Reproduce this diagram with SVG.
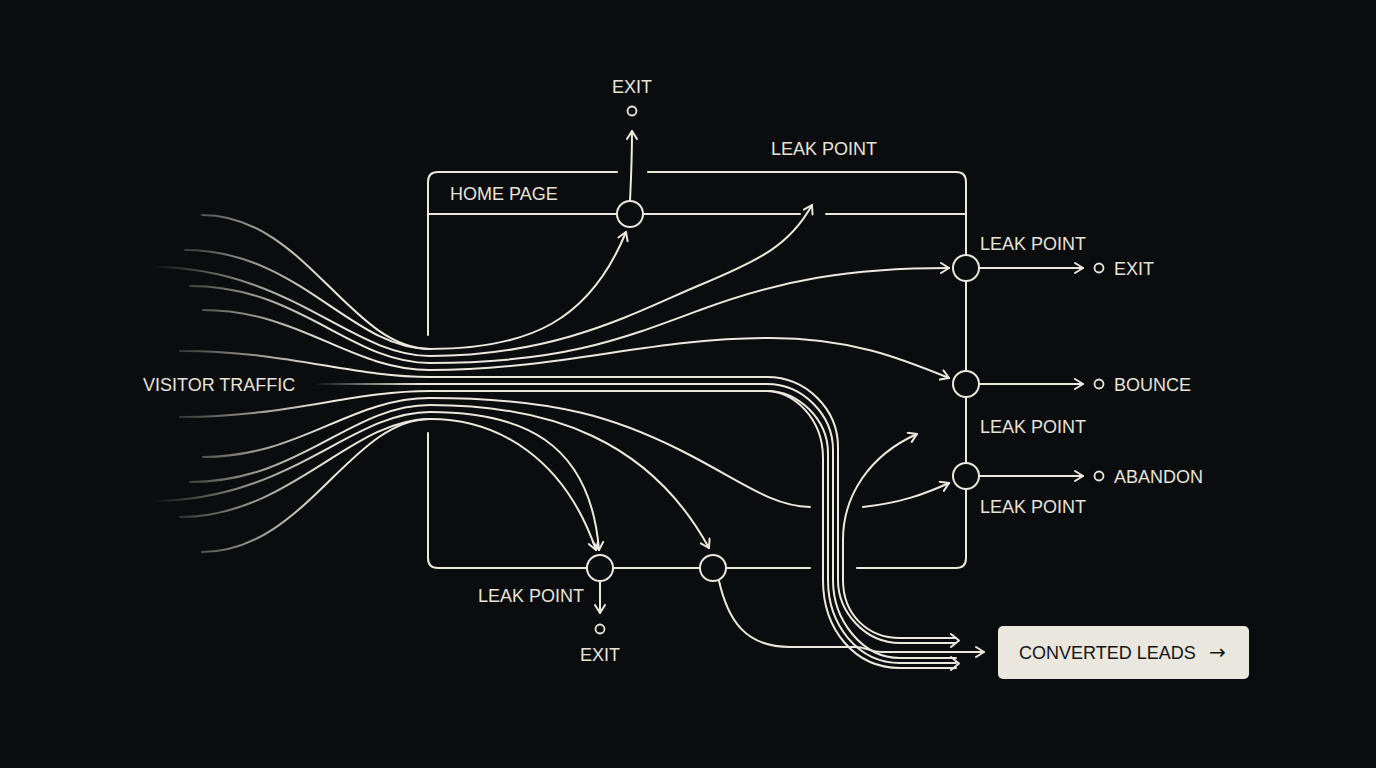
<svg xmlns="http://www.w3.org/2000/svg" width="1376" height="768" viewBox="0 0 1376 768">
<defs>
<style>
.ln{fill:none;stroke:#ebe8df;stroke-width:2;stroke-linecap:round;stroke-linejoin:round}
.fd{fill:none;stroke:url(#fade);stroke-width:2;stroke-linecap:round}
.fc{fill:none;stroke:url(#fadec);stroke-width:2;stroke-linecap:round}
.node{fill:#0b0c0d;stroke:#ebe8df;stroke-width:2}
.dot{fill:#0b0c0d;stroke:#ebe8df;stroke-width:1.8}
.t{font-family:"Liberation Sans",Arial,sans-serif;font-size:18px;fill:#e6e3da}
.tb{font-family:"Liberation Sans",Arial,sans-serif;font-size:18px;fill:#141414}
.ar{font-family:"DejaVu Sans",sans-serif;font-size:20px;fill:#141414}
</style>
<linearGradient id="fade" gradientUnits="userSpaceOnUse" x1="150" y1="0" x2="330" y2="0">
<stop offset="0" stop-color="#ebe8df" stop-opacity="0"/>
<stop offset="0.5" stop-color="#ebe8df" stop-opacity="0.55"/>
<stop offset="1" stop-color="#ebe8df" stop-opacity="1"/>
</linearGradient>
<linearGradient id="fadec" gradientUnits="userSpaceOnUse" x1="313" y1="0" x2="420" y2="0">
<stop offset="0" stop-color="#ebe8df" stop-opacity="0"/>
<stop offset="1" stop-color="#ebe8df" stop-opacity="1"/>
</linearGradient>
<marker id="ah" viewBox="0 0 10 12" refX="9" refY="6" markerWidth="10" markerHeight="12" markerUnits="userSpaceOnUse" orient="auto">
<path d="M1,1 L9,6 L1,11" fill="none" stroke="#ebe8df" stroke-width="2" stroke-linecap="round" stroke-linejoin="round"/>
</marker>
</defs>
<rect width="1376" height="768" fill="#0b0c0d"/>

<g id="home-page">
<path class="ln" d="M428,335 V182 Q428,172 438,172 H617 M648,172 H956 Q966,172 966,182 V558 Q966,568 956,568 H857 M810,568 H438 Q428,568 428,558 V433"/>
<path class="ln" d="M428,214 H800 M826,214 H966"/>
<text class="t" x="450" y="200">HOME PAGE</text>
</g>

<g id="connectors">
<path class="fd" d="M202,215 C305,215 350,349 430,349 C530,349 590,320 626,232" marker-end="url(#ah)"/>
<path class="fd" d="M185,250 C300,250 350,349 430,349"/>
<path class="fd" d="M152,267 C290,267 350,356 430,356 C560,356 640,310 700,285 S790,245 812,205" marker-end="url(#ah)"/>
<path class="fd" d="M190,286 C300,286 350,363 430,363 C560,363 620,340 700,310 S850,268 949,268" marker-end="url(#ah)"/>
<path class="fd" d="M203,310 C300,310 350,370 430,370 C560,370 650,338 770,338 C850,338 900,358 949,378" marker-end="url(#ah)"/>
<path class="fd" d="M180,351 C290,351 350,377 430,377 H767 C806,377 838,409 838,447 V580 C838,612 865,643 900,643 H956"/>
<path class="fc" d="M313,384 H767 C802,384 833,414 833,450 V580 C833,620 862,658 900,658 H956"/>
<path class="fd" d="M180,417 C290,417 350,391 430,391 H767 C798,391 828,419 828,453 V580 C828,625 858,663 900,663 H956"/>
<path class="ln" d="M767,391 C792,391 823,417 823,458 V580 C823,630 855,668 900,668 H956"/>
<path class="fd" d="M203,457 C300,457 350,398 430,398 C560,398 620,420 680,450 C740,480 770,506 810,507"/>
<path class="ln" d="M863,507 C900,503 925,494 949,483" marker-end="url(#ah)"/>
<path class="fd" d="M190,482 C300,482 350,405 430,405 C550,405 650,440 709,548" marker-end="url(#ah)"/>
<path class="fd" d="M152,501 C290,501 350,412 430,412 C520,412 590,440 599,550" marker-end="url(#ah)"/>
<path class="fd" d="M180,517 C290,517 350,419 430,419 C500,419 565,460 596,550" marker-end="url(#ah)"/>
<path class="fd" d="M202,552 C305,552 350,419 430,419"/>
<path class="ln" d="M956,638 H900 C868,638 843,615 843,580 V540 C843,495 870,455 917,434" marker-end="url(#ah)"/>
<path class="ln" d="M719,581 C728,620 745,647 790,647 H855 C866,647 870,652 882,652 H984" marker-end="url(#ah)"/>
<path class="ln" d="M951,634 L959,640.5 L951,647"/>
<path class="ln" d="M951,657 L959,663.5 L951,670"/>
<path class="ln" d="M630,201 C631,180 632,160 632,131" marker-end="url(#ah)"/>
<path class="ln" d="M600,581 V613" marker-end="url(#ah)"/>
<path class="ln" d="M979,268 H1083" marker-end="url(#ah)"/>
<path class="ln" d="M979,384 H1083" marker-end="url(#ah)"/>
<path class="ln" d="M979,476 H1083" marker-end="url(#ah)"/>
</g>

<g id="visitor-traffic"><text class="t" x="143" y="391">VISITOR TRAFFIC</text></g>

<g id="leak-top">
<circle class="node" cx="630" cy="214" r="13"/>
<text class="t" x="824" y="155" text-anchor="middle">LEAK POINT</text>
</g>
<g id="exit-top">
<circle class="dot" cx="632" cy="111" r="4.5"/>
<text class="t" x="632" y="93" text-anchor="middle">EXIT</text>
</g>

<g id="leak-exit">
<circle class="node" cx="966" cy="268" r="13"/>
<text class="t" x="980" y="250">LEAK POINT</text>
<circle class="dot" cx="1099" cy="268" r="4.5"/>
<text class="t" x="1114" y="275">EXIT</text>
</g>
<g id="leak-bounce">
<circle class="node" cx="966" cy="384" r="13"/>
<text class="t" x="980" y="433">LEAK POINT</text>
<circle class="dot" cx="1099" cy="384" r="4.5"/>
<text class="t" x="1114" y="391">BOUNCE</text>
</g>
<g id="leak-abandon">
<circle class="node" cx="966" cy="476" r="13"/>
<text class="t" x="980" y="513">LEAK POINT</text>
<circle class="dot" cx="1099" cy="476" r="4.5"/>
<text class="t" x="1114" y="483">ABANDON</text>
</g>

<g id="leak-bottom">
<circle class="node" cx="600" cy="568" r="13"/>
<text class="t" x="531" y="602" text-anchor="middle">LEAK POINT</text>
<circle class="dot" cx="600" cy="629" r="4.5"/>
<text class="t" x="600" y="661" text-anchor="middle">EXIT</text>
</g>
<g id="node-bottom-2">
<circle class="node" cx="713" cy="568" r="13"/>
</g>

<g id="converted-leads">
<rect x="998" y="626" width="251" height="53" rx="5" fill="#e9e7de"/>
<text class="tb" x="1019" y="659">CONVERTED LEADS</text>
<text class="ar" x="1209" y="659">→</text>
</g>
</svg>
